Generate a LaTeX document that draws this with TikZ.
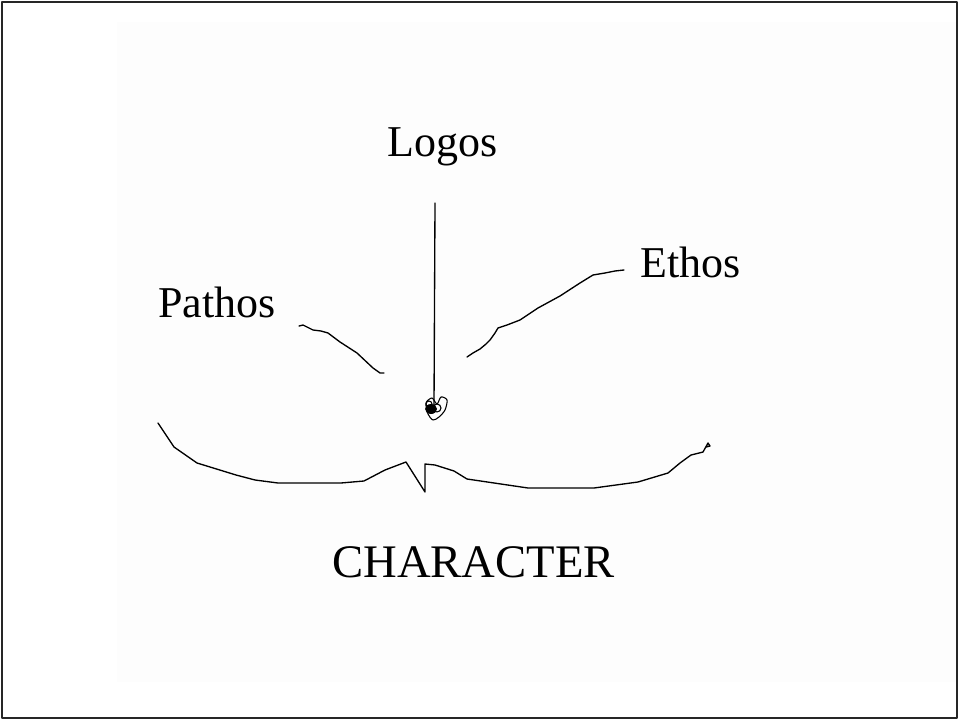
\documentclass[tikz,border=0pt]{standalone}
\usepackage{fontspec}
\setmainfont{Liberation Serif}

\begin{document}
\begin{tikzpicture}[x=.75pt,y=-.75pt,line join=round,line cap=round,
  hand/.style={line width=1pt},
  word/.style={font=\fontsize{33}{38}\selectfont,inner sep=0pt,anchor=base west}]
\useasboundingbox (0,0) rectangle (959,720);
\fill[black!.6] (117,22) rectangle (957,682);
\draw[line width=1.5pt,black!85] (2,2) rectangle (957,718);
% the three appeals
\node[word] (logos) at (387,157) {Logos};
\node[word] (pathos) at (158,317) {Pathos};
\node[word] (ethos) at (640,277) {Ethos};
\node[word,font=\fontsize{35}{40}\selectfont] (character) at (332,577) {CHARACTER};
\coordinate (hub) at (434,406);\coordinate (logostop) at (435,203);
\coordinate (pathosend) at (299,326);\coordinate (ethosend) at (624,270);
\draw[hand] (logostop)--(hub);
\draw[hand] (pathosend)--(303,325)--(313,330)--(321,331)--(328,333)--(340,342)--(357,353)--(373,368)--(380,373)--(384,373);
\draw[hand] (467,357)--(473,353)--(480,349)--(486,344)--(490,340)--(495,333)--(498,328)--(507,325)--(520,320)--(538,308)--(560,296)--(580,283)--(593,275)--(605,273)--(615,271)--(ethosend);
% scribble at the centre
\fill (431,409) ellipse (6 and 5);
\draw[line width=.8pt] plot[smooth cycle] coordinates {(426,403)(432,398)(437,404)(441,397)(447,400)(445,410)(439,417)(433,420)(428,414)};
\draw[line width=.8pt] (437,408) circle (4) (429,404) circle (3);
% the brace over CHARACTER
\draw[hand] (158,423)--(174,447)--(197,463)--(236,475)--(255,480)--(278,483)--(341,483)--(364,481)--(385,470)--(406,462)--(425,492)--(425,464)--(435,465)--(454,471)--(467,479)--(528,488)--(594,488)--(638,482)--(668,473)--(680,463)--(691,455)--(703,452)--(708,443)--(710,446)--(706,447);
\end{tikzpicture}
\end{document}
